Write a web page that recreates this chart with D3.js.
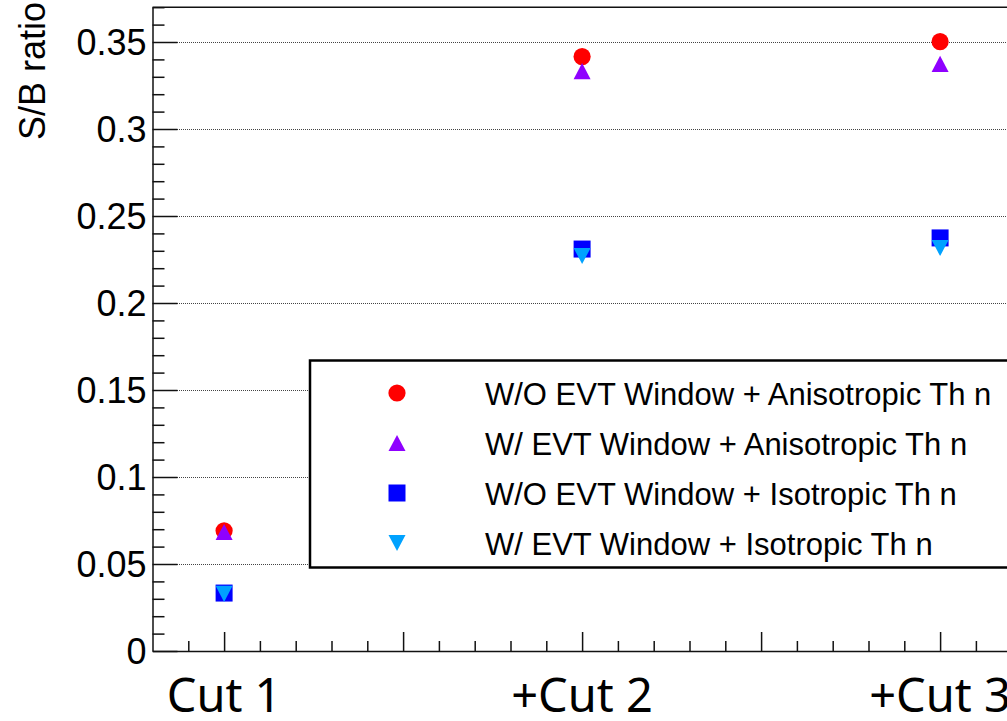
<!DOCTYPE html>
<html>
<head>
<meta charset="utf-8">
<script src="https://cdn.jsdelivr.net/npm/d3@7"></script>
<style>
  html, body { margin: 0; padding: 0; background: #fff; }
  svg { display: block; }
</style>
</head>
<body>
<svg id="chart" width="1007" height="721"></svg>
<script>
// Selection steps on the horizontal axis
const categories = ["Cut 1", "+Cut 2", "+Cut 3"];

// S/B ratio after each selection step, one array per configuration
const seriesNames = [
  "W/O EVT Window + Anisotropic Th n",
  "W/ EVT Window + Anisotropic Th n",
  "W/O EVT Window + Isotropic Th n",
  "W/ EVT Window + Isotropic Th n"
];
const woEvtAniso = [0.0691, 0.3416, 0.3502];
const wEvtAniso  = [0.0684, 0.3333, 0.3374];
const woEvtIso   = [0.0333, 0.2310, 0.2374];
const wEvtIso    = [0.0328, 0.2270, 0.2316];

// Axis ticks
const yTickValues = [0, 0.05, 0.1, 0.15, 0.2, 0.25, 0.3, 0.35];
const yTickLabels = ["0", "0.05", "0.1", "0.15", "0.2", "0.25", "0.3", "0.35"];
const yTitle = "S/B ratio";

const svg = d3.select("#chart");
const W = 1007, H = 721;

// Frame: left edge visible, right edge runs past the canvas
const x = d3.scaleLinear().domain([-0.2, 2.2]).range([152.5, 1011.7]);
const y = d3.scaleLinear().domain([0, 0.37]).range([651, 7.2]);

const axisColor = "#111";

// Marker shapes (ROOT-like full markers, centred on their bounding box)
const triUp = {
  draw(ctx, size) {
    const w = Math.sqrt(size) / 2, h = w * 0.95;
    ctx.moveTo(0, -h); ctx.lineTo(w, h); ctx.lineTo(-w, h); ctx.closePath();
  }
};
const triDown = {
  draw(ctx, size) {
    const w = Math.sqrt(size) / 2, h = w * 0.95;
    ctx.moveTo(-w, -h); ctx.lineTo(w, -h); ctx.lineTo(0, h); ctx.closePath();
  }
};
const series = [
  { name: seriesNames[0], values: woEvtAniso, color: "#ff0000", type: d3.symbolCircle, size: Math.PI * 8.6 * 8.6 },
  { name: seriesNames[1], values: wEvtAniso,  color: "#8f00ff", type: triUp,          size: 17 * 17 },
  { name: seriesNames[2], values: woEvtIso,   color: "#0000ff", type: d3.symbolSquare, size: 17 * 17 },
  { name: seriesNames[3], values: wEvtIso,    color: "#00a2ff", type: triDown,        size: 17 * 17 }
];

// Dotted horizontal grid, snapped to whole pixels so the dots stay sharp
svg.append("g")
  .attr("shape-rendering", "crispEdges")
  .selectAll("line")
  .data(yTickValues.filter(v => v > 0))
  .join("line")
  .attr("x1", x(-0.2)).attr("x2", W)
  .attr("y1", d => Math.round(y(d)) + 0.5).attr("y2", d => Math.round(y(d)) + 0.5)
  .attr("stroke", "#444")
  .attr("stroke-width", 1)
  .attr("stroke-dasharray", "1,1");

// Top frame line
svg.append("line")
  .attr("x1", x(-0.2)).attr("x2", W)
  .attr("y1", y(0.37)).attr("y2", y(0.37))
  .attr("stroke", axisColor).attr("stroke-width", 1.5);

// Y axis: major ticks with labels, ticks drawn inward
const yAxis = d3.axisLeft(y)
  .tickValues(yTickValues)
  .tickFormat((d, i) => yTickLabels[i])
  .tickSize(-25)
  .tickSizeOuter(0)
  .tickPadding(6);
const gy = svg.append("g")
  .attr("transform", `translate(${x(-0.2)},0)`)
  .call(yAxis);
gy.select(".domain").attr("stroke", axisColor).attr("stroke-width", 1.5);
gy.selectAll(".tick line").attr("stroke", axisColor).attr("stroke-width", 1.5);
gy.selectAll(".tick text")
  .attr("font-family", "'Liberation Sans', Arial, sans-serif")
  .attr("font-size", 36)
  .attr("fill", "#000")
  .attr("dy", "0.36em");

// Y axis minor ticks
const yMinor = d3.range(0, 38).map(i => i / 100).filter(v => Math.round(v * 100) % 5 !== 0);
svg.append("g")
  .attr("transform", `translate(${x(-0.2)},0)`)
  .call(d3.axisLeft(y).tickValues(yMinor).tickFormat("").tickSize(-12).tickSizeOuter(0))
  .call(g => g.select(".domain").remove())
  .call(g => g.selectAll(".tick line").attr("stroke", axisColor).attr("stroke-width", 1.5));

// X axis: major ticks every 0.5, minor every 0.1, ticks drawn upward
const xMajor = [0, 0.5, 1, 1.5, 2];
const gx = svg.append("g")
  .attr("transform", `translate(0,${y(0)})`)
  .call(d3.axisBottom(x).tickValues(xMajor).tickFormat("").tickSize(-19).tickSizeOuter(0));
gx.select(".domain").attr("stroke", axisColor).attr("stroke-width", 1.5);
gx.selectAll(".tick line").attr("stroke", axisColor).attr("stroke-width", 1.5);

const xMinor = d3.range(-1, 23).map(i => i / 10).filter(v => Math.round(v * 10) % 5 !== 0);
svg.append("g")
  .attr("transform", `translate(0,${y(0)})`)
  .call(d3.axisBottom(x).tickValues(xMinor).tickFormat("").tickSize(-10).tickSizeOuter(0))
  .call(g => g.select(".domain").remove())
  .call(g => g.selectAll(".tick line").attr("stroke", axisColor).attr("stroke-width", 1.5));

// Category labels under the axis
svg.append("g")
  .selectAll("text")
  .data(categories)
  .join("text")
  .attr("x", (d, i) => x(i))
  .attr("y", 712)
  .attr("text-anchor", "middle")
  .attr("font-family", "'Noto Sans', 'Open Sans', sans-serif")
  .attr("font-size", 47)
  .attr("fill", "#000")
  .text(d => d);

// Y axis title, rotated, aligned to the top of the axis
svg.append("text")
  .attr("transform", "translate(45,2) rotate(-90)")
  .attr("text-anchor", "end")
  .attr("font-family", "'Liberation Sans', Arial, sans-serif")
  .attr("font-size", 36)
  .attr("fill", "#000")
  .text(yTitle);

// Data markers
series.forEach(s => {
  const sym = d3.symbol().type(s.type).size(s.size);
  svg.append("g")
    .selectAll("path")
    .data(s.values)
    .join("path")
    .attr("transform", (d, i) => `translate(${x(i)},${y(d)})`)
    .attr("d", sym())
    .attr("fill", s.color);
});

// Legend
const legend = svg.append("g");
legend.append("rect")
  .attr("x", 310).attr("y", 360.5)
  .attr("width", 720).attr("height", 207)
  .attr("fill", "#fff")
  .attr("stroke", "#000")
  .attr("stroke-width", 2.5);

const rows = legend.selectAll("g.row")
  .data(series)
  .join("g")
  .attr("class", "row")
  .attr("transform", (d, i) => `translate(0,${393 + i * 50})`);
rows.append("path")
  .attr("transform", "translate(397,0)")
  .attr("d", d => d3.symbol().type(d.type).size(d.size)())
  .attr("fill", d => d.color);
rows.append("text")
  .attr("x", 485)
  .attr("y", 12)
  .attr("font-family", "'Liberation Sans', Arial, sans-serif")
  .attr("font-size", 31)
  .attr("fill", "#000")
  .text(d => d.name);
</script>
</body>
</html>
